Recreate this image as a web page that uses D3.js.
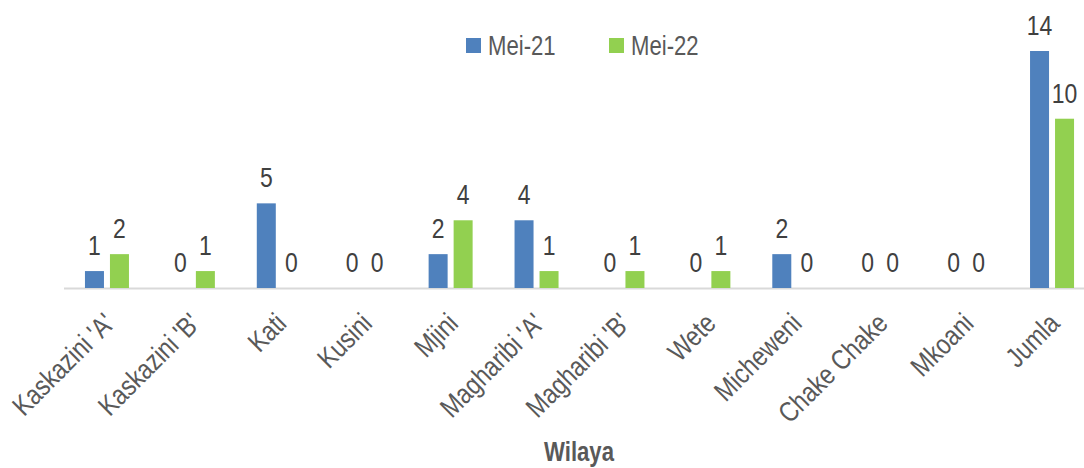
<!DOCTYPE html>
<html><head><meta charset="utf-8">
<script src="https://cdn.jsdelivr.net/npm/d3@7/dist/d3.min.js"></script>
<style>
body{margin:0;background:#fff;}
text{font-family:"Liberation Sans Narrow","Arial Narrow","Liberation Sans",Arial,sans-serif;fill:#595959;}
</style></head><body>
<svg id="c" width="1084" height="468"></svg>
<script>
const categories = ["Kaskazini 'A'","Kaskazini 'B'","Kati","Kusini","Mjini","Magharibi 'A'","Magharibi 'B'","Wete","Micheweni","Chake Chake","Mkoani","Jumla"];
const seriesNames = ["Mei-21","Mei-22"];
const mei21 = [1,0,5,0,2,4,0,0,2,0,0,14];
const mei22 = [2,1,0,0,4,1,1,1,0,0,0,10];
const colors = ["#4f81bd","#92d050"];
const axisTitle = "Wilaya";

const SX = 0.82; // emulate narrow face
const svg = d3.select("#c");
const x = d3.scaleBand().domain(categories).range([64,1095]);
const y = d3.scaleLinear().domain([0,14]).range([288,51]);
const bw = x.bandwidth();
const barW = 19, gap = 6;
const series = [mei21, mei22];

svg.append("line").attr("x1",64).attr("x2",1084).attr("y1",y(0)+0.5).attr("y2",y(0)+0.5)
  .attr("stroke","#d9d9d9").attr("stroke-width",2);

series.forEach((vals,si)=>{
  const off = si===0 ? -(gap/2+barW) : gap/2;
  const g = svg.append("g");
  g.selectAll("rect").data(vals).join("rect")
    .attr("x",(d,i)=>x(categories[i])+bw/2+off)
    .attr("y",d=>y(d))
    .attr("width",barW)
    .attr("height",d=>y(0)-y(d))
    .attr("fill",colors[si]);
  g.selectAll("text").data(vals).join("text")
    .attr("transform",(d,i)=>`translate(${x(categories[i])+bw/2+off+barW/2},${y(d)-16}) scale(${SX},1)`)
    .attr("text-anchor","middle")
    .style("font-size","28px")
    .style("fill","#404040")
    .text(d=>d);
});

svg.append("g").selectAll("text").data(categories).join("text")
  .attr("transform",d=>`translate(${x(d)+bw/2-5},311) rotate(-45) scale(0.83,1)`)
  .attr("text-anchor","end")
  .attr("dy","0.71em")
  .style("font-size","28px")
  .text(d=>d);

svg.append("text").attr("transform",`translate(579,461) scale(${SX},1)`).attr("text-anchor","middle")
  .style("font-size","27px").style("font-weight","bold").text(axisTitle);

const lg = svg.append("g");
const lx = [466,609];
seriesNames.forEach((n,i)=>{
  lg.append("rect").attr("x",lx[i]).attr("y",38).attr("width",15).attr("height",15).attr("fill",colors[i]);
  lg.append("text").attr("transform",`translate(${lx[i]+22},55) scale(${SX},1)`).style("font-size","27px").text(n);
});
</script></body></html>
